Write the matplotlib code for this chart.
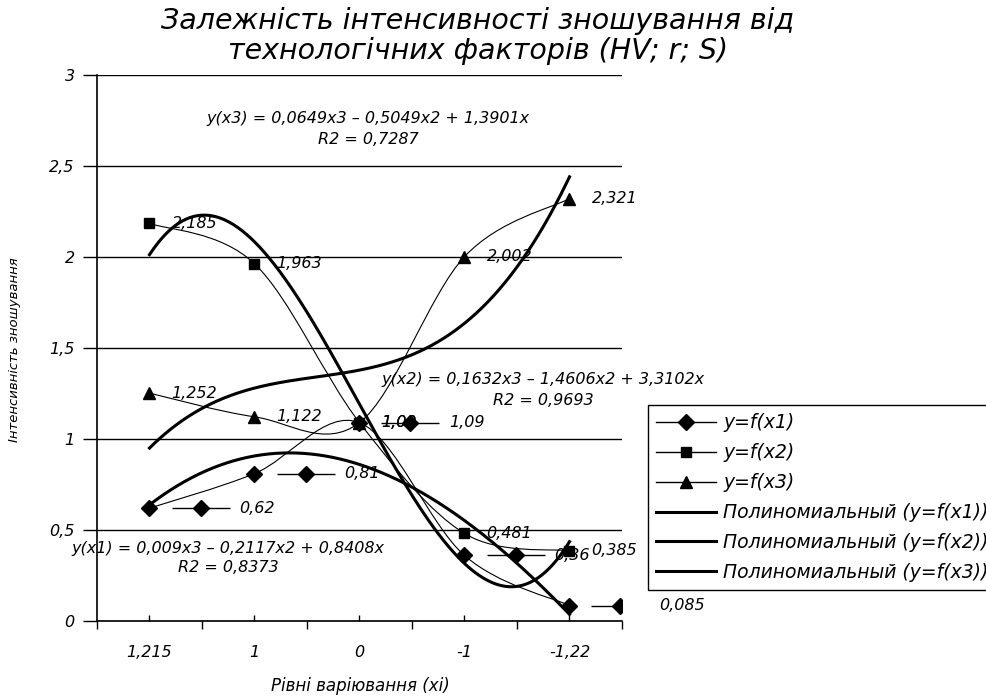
import numpy as np
import matplotlib.pyplot as plt
from matplotlib.path import Path
from matplotlib.patches import PathPatch
from matplotlib.lines import Line2D
from matplotlib.transforms import offset_copy

plt.rcParams['font.family'] = ['DejaVu Sans']
plt.rcParams['font.style'] = 'italic'

# категорії (рівні варіювання)
levels = ['1,215', '1', '0', '-1', '-1,22']
xpos = np.arange(1, 6)

y_x1 = [0.62, 0.81, 1.09, 0.36, 0.085]
y_x2 = [2.185, 1.963, 1.09, 0.481, 0.385]
y_x3 = [1.252, 1.122, 1.09, 2.002, 2.321]

lab_x1 = ['0,62', '0,81', '1,09', '0,36', '0,085']
lab_x2 = ['2,185', '1,963', '1,09', '0,481', '0,385']
lab_x3 = ['1,252', '1,122', '1,09', '2,002', '2,321']

# коефіцієнти поліноміальних трендів (x3, x2, x, 0)
c_x1 = [0.009, -0.2117, 0.8408, 0]
c_x2 = [0.1632, -1.4606, 3.3102, 0]
c_x3 = [0.0649, -0.5049, 1.3901, 0]

eq_x1 = 'y(x1) = 0,009x3 – 0,2117x2 + 0,8408x\nR2 = 0,8373'
eq_x2 = 'y(x2) = 0,1632x3 – 1,4606x2 + 3,3102x\nR2 = 0,9693'
eq_x3 = 'y(x3) = 0,0649x3 – 0,5049x2 + 1,3901x\nR2 = 0,7287'

W, H = 987, 696
fig = plt.figure(figsize=(W / 100, H / 100), dpi=100)
ax = fig.add_axes([97 / W, 1 - 621 / H, (622 - 97) / W, (621 - 75) / H])


def smooth_path(xs, ys):
    # згладжування як у Excel (Безьє через сусідні точки)
    p = np.column_stack([xs, ys]).astype(float)
    ext = np.vstack([p[0], p, p[-1]])
    verts = [p[0]]
    codes = [Path.MOVETO]
    for i in range(len(p) - 1):
        a, b, c, d = ext[i], ext[i + 1], ext[i + 2], ext[i + 3]
        verts += [b + (c - a) / 6, c - (d - b) / 6, c]
        codes += [Path.CURVE4] * 3
    return Path(verts, codes)


for ys in (y_x1, y_x2, y_x3):
    ax.add_patch(PathPatch(smooth_path(xpos, ys), fill=False, lw=0.8, color='k', zorder=3))

ax.plot(xpos, y_x1, 'D', ms=8, color='k', zorder=5)
ax.plot(xpos, y_x2, 's', ms=7.5, color='k', zorder=5)
ax.plot(xpos, y_x3, '^', ms=8.5, color='k', zorder=5)

xt = np.linspace(1, 5, 300)
for c in (c_x1, c_x2, c_x3):
    ax.plot(xt, np.polyval(c, xt), color='k', lw=2.2, zorder=4)

# підписи даних
fs = 11.5
for x, y, t in zip(xpos, y_x1, lab_x1):
    tr = offset_copy(ax.transData, fig=fig, x=51, y=0, units='dots')
    ax.plot(x, y, marker='_', ms=42, mew=1, color='k', transform=tr, zorder=5)
    ax.plot(x, y, marker='D', ms=8, color='k', transform=tr, zorder=5)
    ax.annotate(t, (x, y), xytext=(90, 0), textcoords='offset pixels',
                va='center', ha='left', fontsize=fs, zorder=6)
for ys, labs in ((y_x2, lab_x2), (y_x3, lab_x3)):
    for x, y, t in zip(xpos, ys, labs):
        ax.annotate(t, (x, y), xytext=(22, 0), textcoords='offset pixels',
                    va='center', ha='left', fontsize=fs, zorder=6)

ax.set_xlim(0.5, 5.5)
ax.set_ylim(0, 3)
ax.set_yticks(np.arange(0, 3.01, 0.5))
ax.set_yticklabels(['0', '0,5', '1', '1,5', '2', '2,5', '3'], fontsize=fs)
ax.set_xticks(np.arange(0.5, 5.6, 1))
ax.set_xticklabels([])
ax.set_xticks(xpos, minor=True)
ax.set_xticklabels(levels, minor=True, fontsize=fs)
ax.tick_params(axis='y', direction='out', length=10, width=1, pad=6)
ax.tick_params(axis='x', which='major', direction='out', length=6, width=1)
ax.tick_params(axis='x', which='minor', direction='in', length=4, width=1, pad=17)
ax.yaxis.grid(True, color='k', lw=1)
ax.set_axisbelow(True)
for s in ('top', 'right'):
    ax.spines[s].set_visible(False)
for s in ('left', 'bottom'):
    ax.spines[s].set_linewidth(1.2)

# заголовок і підписи осей
fig.text(478 / W, 1 - 36 / H,
         'Залежність інтенсивності зношування від\nтехнологічних факторів (HV; r; S)',
         ha='center', va='center', fontsize=20.5, linespacing=1.1)
fig.text(15 / W, 1 - 350 / H, 'Інтенсивність зношування', rotation=90,
         ha='center', va='center', fontsize=9.5)
fig.text(360 / W, 1 - 686 / H, 'Рівні варіювання (xi)', ha='center', va='center', fontsize=12)

fig.text(368 / W, 1 - 129 / H, eq_x3, ha='center', va='center', fontsize=fs, linespacing=1.5)
fig.text(543 / W, 1 - 390 / H, eq_x2, ha='center', va='center', fontsize=fs, linespacing=1.45)
fig.text(228 / W, 1 - 558 / H, eq_x1, ha='center', va='center', fontsize=fs, linespacing=1.25)

handles = [
    Line2D([], [], color='k', lw=1, marker='D', ms=8),
    Line2D([], [], color='k', lw=1, marker='s', ms=7.5),
    Line2D([], [], color='k', lw=1, marker='^', ms=8.5),
    Line2D([], [], color='k', lw=2.2),
    Line2D([], [], color='k', lw=2.2),
    Line2D([], [], color='k', lw=2.2),
]
names = ['y=f(x1)', 'y=f(x2)', 'y=f(x3)',
         'Полиномиальный (y=f(x1))', 'Полиномиальный (y=f(x2))', 'Полиномиальный (y=f(x3))']
leg = fig.legend(handles, names, loc='upper left', bbox_to_anchor=(648 / W, 1 - 405 / H),
                 bbox_transform=fig.transFigure, borderaxespad=0, fancybox=False,
                 edgecolor='k', framealpha=1, fontsize=13.5, handlelength=3.2,
                 handletextpad=0.35, labelspacing=0.58, borderpad=0.45, numpoints=1)
leg.get_frame().set_linewidth(1)

fig.savefig('out.png', dpi=100)
